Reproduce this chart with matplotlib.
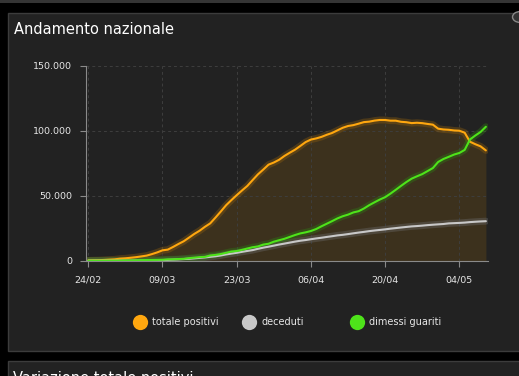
import numpy as np
import matplotlib.pyplot as plt
from matplotlib.patches import Rectangle, Circle
from matplotlib.lines import Line2D

# daily national data, 24/02 -> 09/05
totale_positivi = [
    221, 311, 385, 588, 821, 1049, 1577, 1835, 2263, 2706, 3296, 3916, 5061, 6387,
    7985, 8514, 10590, 12839, 14955, 17750, 20603, 23073, 26062, 28710, 33190, 37860,
    42681, 46638, 50418, 54030, 57521, 62013, 66414, 70065, 73880, 75528, 77635, 80572,
    83049, 85388, 88274, 91246, 93187, 94067, 95262, 96877, 98273, 100269, 102253,
    103616, 104291, 105418, 106607, 106962, 107771, 108257, 108237, 107709, 107699,
    106848, 106527, 105847, 106103, 105813, 105205, 104657, 101551, 100943, 100704,
    100179, 99980, 98467, 91528, 89624, 87961, 84842]
deceduti = [
    7, 10, 12, 17, 21, 29, 34, 52, 79, 107, 148, 197, 233, 366, 463, 631, 827, 1016,
    1266, 1441, 1809, 2158, 2503, 2978, 3405, 4032, 4825, 5476, 6077, 6820, 7503, 8165,
    9134, 10023, 10779, 11591, 12428, 13155, 13915, 14681, 15362, 15887, 16523, 17127,
    17669, 18279, 18849, 19468, 19899, 20465, 21067, 21645, 22170, 22745, 23227, 23660,
    24114, 24648, 25085, 25549, 25969, 26384, 26644, 26977, 27359, 27682, 27967, 28236,
    28710, 28884, 29079, 29315, 29684, 29958, 30201, 30395]
dimessi_guariti = [
    1, 1, 3, 45, 46, 50, 83, 149, 160, 276, 414, 523, 589, 622, 724, 1004, 1045, 1258,
    1439, 1966, 2335, 2749, 2941, 4025, 4440, 5129, 6072, 7024, 7432, 8326, 9362, 10361,
    10950, 12384, 13030, 14620, 15729, 16847, 18278, 19758, 20996, 21815, 22837, 24392,
    26491, 28470, 30455, 32534, 34211, 35435, 37130, 38092, 40164, 42727, 44927, 47055,
    48877, 51600, 54543, 57576, 60498, 63120, 64928, 66624, 68941, 71252, 75945, 78249,
    79914, 81654, 82879, 85231, 93245, 96276, 99023, 103031]
tick_days = [0, 14, 28, 42, 56, 70]
tick_labels = ['24/02', '09/03', '23/03', '06/04', '20/04', '04/05']
y_ticks = [0, 50000, 100000, 150000]
y_labels = ['0', '50.000', '100.000', '150.000']
legend_names = ['totale positivi', 'deceduti', 'dimessi guariti']
colors = ['#ffa70f', '#c8c8c8', '#4ee31a']
glow = ['#8a5c10', '#6a6a6a', '#2f7a14']

W, H = 519, 376
fig = plt.figure(figsize=(W / 100, H / 100), dpi=100)
fig.patch.set_facecolor('black')

def px_rect(x0, y0, x1, y1, **kw):
    # rectangle in pixel coords measured from top-left
    r = Rectangle((x0 / W, 1 - y1 / H), (x1 - x0) / W, (y1 - y0) / H,
                  transform=fig.transFigure, zorder=-10, **kw)
    fig.add_artist(r)

px_rect(0, 0, W, 2.5, facecolor='#353535', edgecolor='none')
px_rect(8, 13, W + 5, 350.5, facecolor='#222222', edgecolor='#3c3c3c', linewidth=1)
px_rect(8, 361, W + 5, H + 5, facecolor='#222222', edgecolor='#3c3c3c', linewidth=1)
fig.add_artist(Circle((520 / W, 1 - 17 / H), 7.5 / W, transform=fig.transFigure,
                      facecolor='#333333', edgecolor='#888888', linewidth=1))

fig.text(14 / W, 1 - 29 / H, 'Andamento nazionale', color='white', fontsize=10.5,
         va='center', ha='left', fontweight='medium')
fig.text(13 / W, 1 - 371 / H, 'Variazione totale positivi', color='white', fontsize=10.5,
         va='top', ha='left')

ax = fig.add_axes([86 / W, 115.3 / H, 402 / W, 195 / H])
ax.set_facecolor('none')
days = np.arange(len(totale_positivi))

ax.fill_between(days, totale_positivi, color='#ffa500', alpha=0.12, linewidth=0)
series = [totale_positivi, deceduti, dimessi_guariti]
for vals, c, g in zip(series, colors, glow):
    ax.plot(days, vals, color=g, linewidth=5, alpha=0.4, solid_capstyle='round')
for vals, c in zip(series, colors):
    ax.plot(days, vals, color=c, linewidth=1.5, solid_capstyle='round')

ax.set_xlim(-0.43, 75.4)
ax.set_ylim(0, 150000)
ax.set_xticks(tick_days)
ax.set_xticklabels(tick_labels)
ax.set_yticks(y_ticks)
ax.set_yticklabels(y_labels)
ax.grid(True, color='#3e3e3e', linestyle=(0, (3, 3)), linewidth=0.7)
ax.tick_params(colors='#8a8a8a', labelcolor='#e6e6e6', labelsize=6.8, length=4)
ax.tick_params(axis='x', pad=7)
ax.tick_params(axis='y', pad=6)
for s in ['top', 'right']:
    ax.spines[s].set_visible(False)
for s in ['left', 'bottom']:
    ax.spines[s].set_color('#8a8a8a')
    ax.spines[s].set_linewidth(0.8)

# legend
leg_x = [140, 249, 357]
for x, name, c in zip(leg_x, legend_names, colors):
    fig.add_artist(Line2D([x / W], [1 - 321.5 / H], marker='o', markersize=11,
                          color=c, markeredgewidth=0, transform=fig.transFigure))
    fig.text((x + 12) / W, 1 - 322 / H, name, color='#e6e6e6', fontsize=7,
             va='center', ha='left')

fig.savefig('out.png', dpi=100, facecolor=fig.get_facecolor())
